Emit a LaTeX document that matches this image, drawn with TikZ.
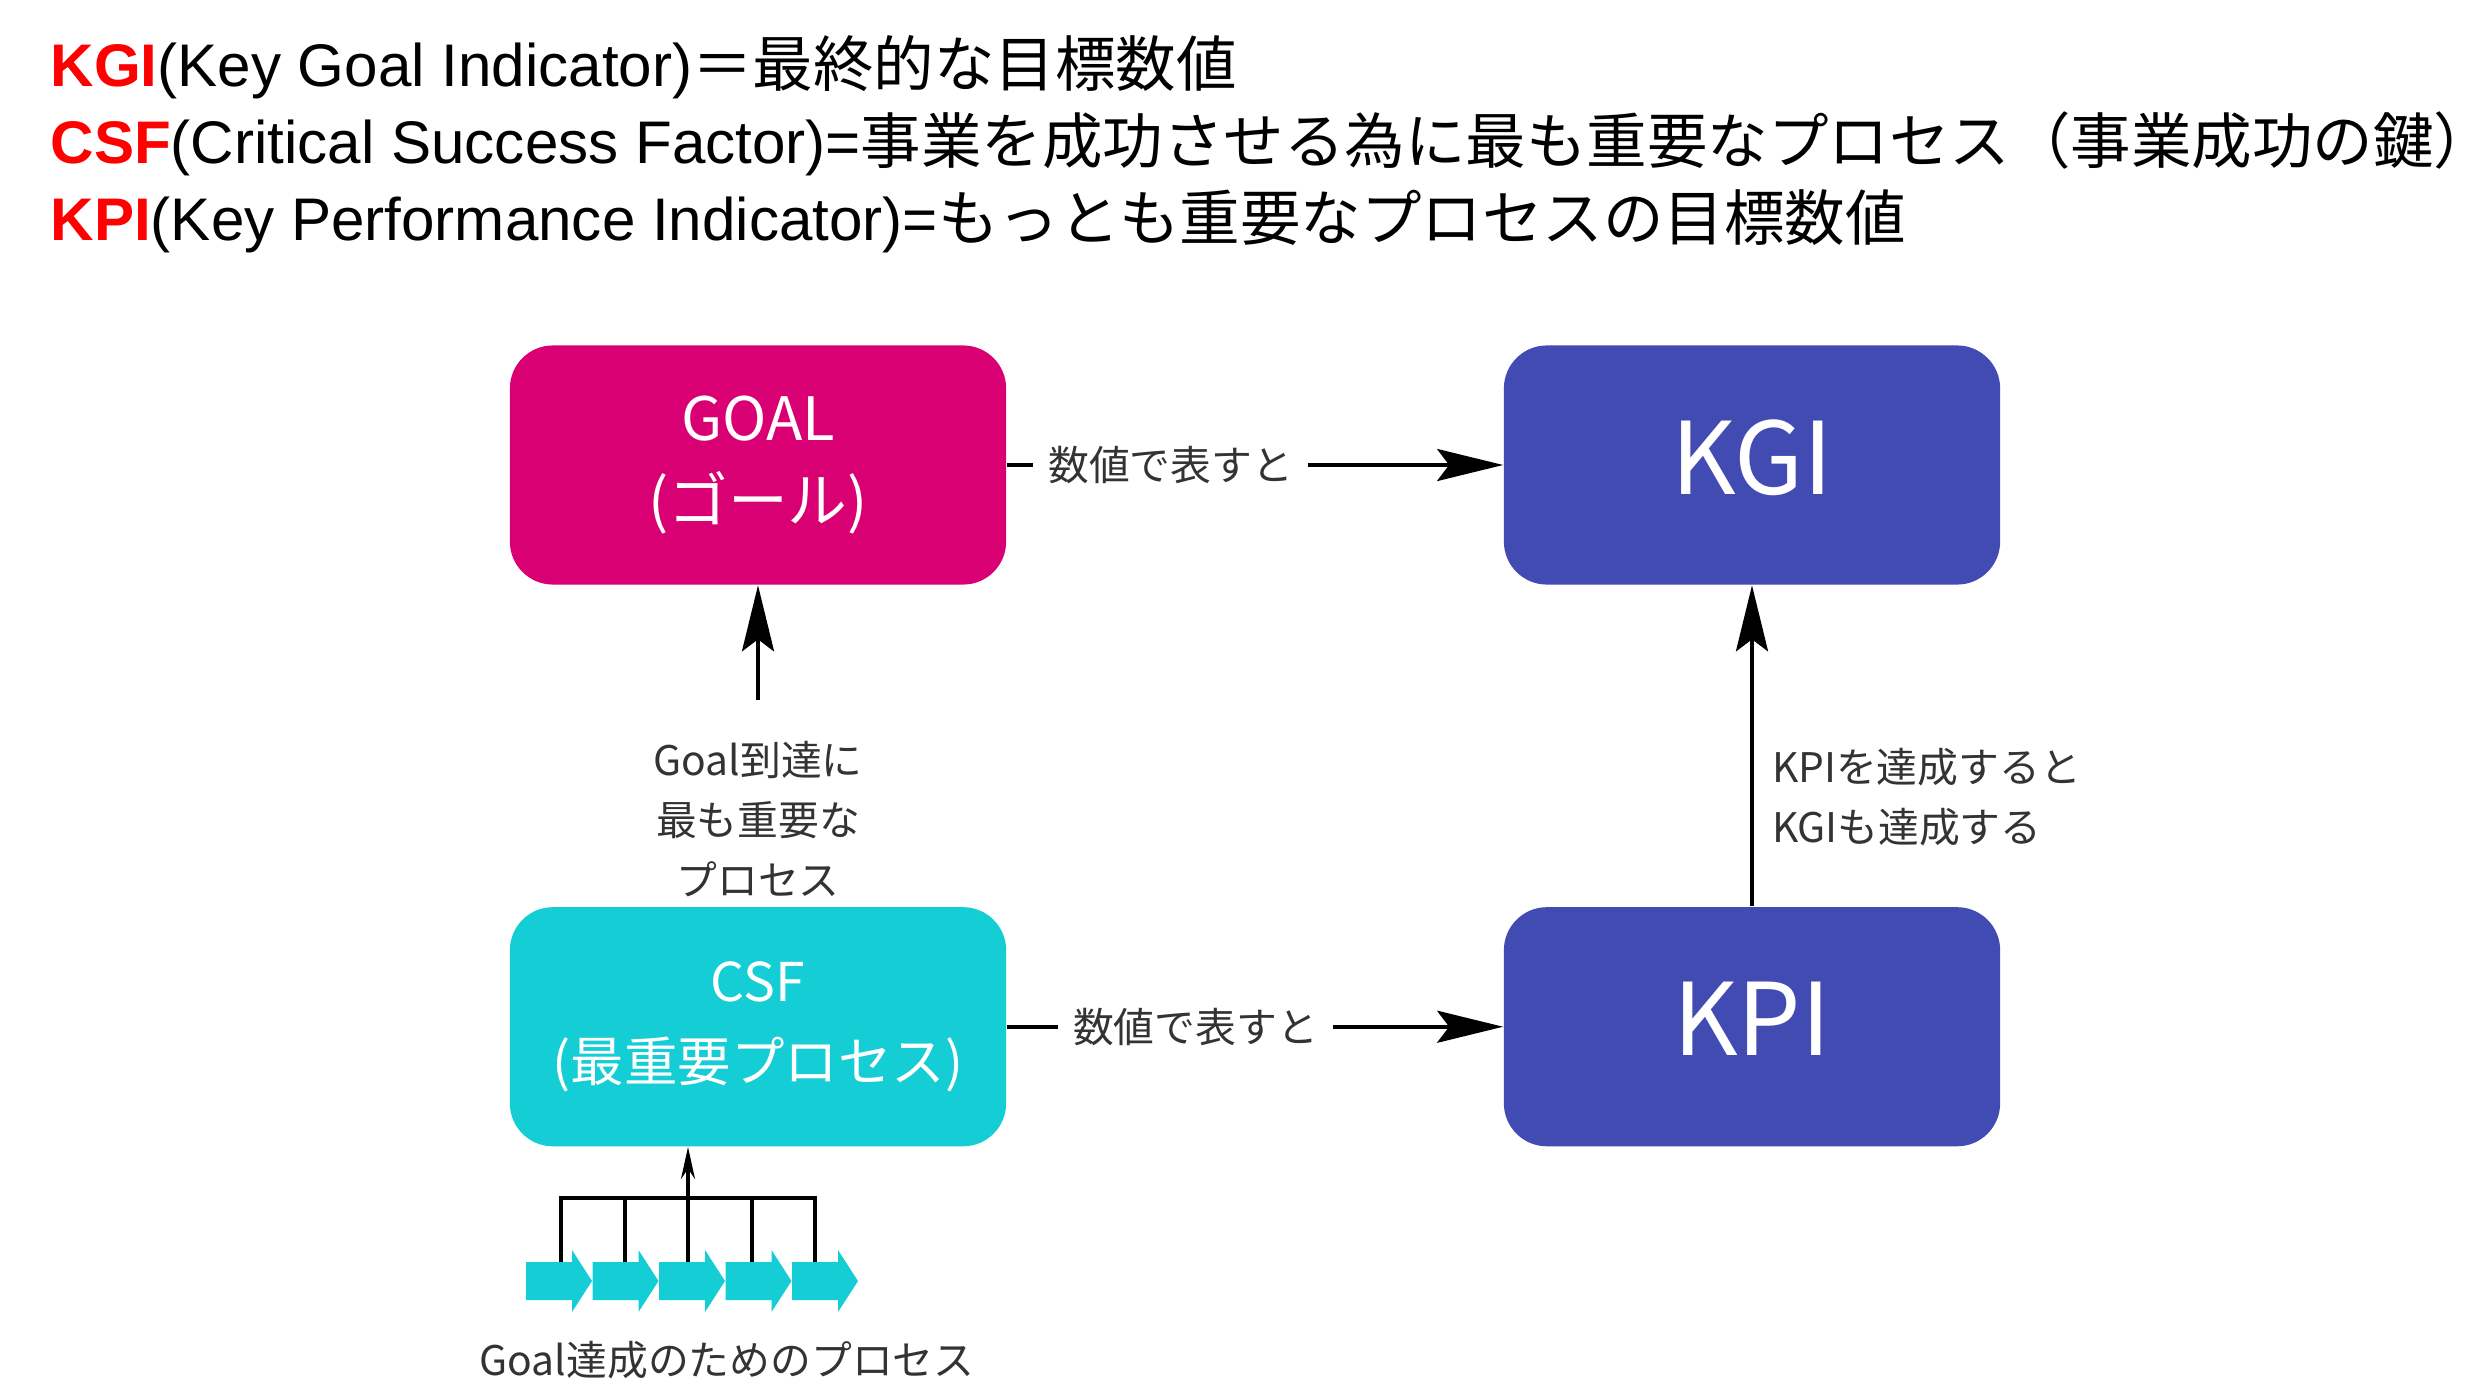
\documentclass[tikz,border=0pt]{standalone}
\usepackage{fontspec}
\setmainfont{Liberation Sans}
\newfontfamily\jpfont{Noto Sans CJK JP}
\usepackage{xcolor}
\usetikzlibrary{arrows.meta,positioning}

\definecolor{keyred}{HTML}{FF0000}
\definecolor{goalpink}{HTML}{D90073}
\definecolor{kpiblue}{HTML}{414BB2}
\definecolor{csfcyan}{HTML}{14CDD5}
\definecolor{notegray}{HTML}{333333}
\newcommand\hjp[1]{{\jpfont\fontsize{17.2}{20}\selectfont #1}}

\begin{document}
\begin{tikzpicture}[x=0.01cm,y=-0.01cm,
  hdr/.style={anchor=base west, inner sep=0, font=\fontsize{17.1}{20}\selectfont},
  box/.style={rounded corners=0.43cm, minimum width=4.96cm, minimum height=2.39cm,
    text=white, align=center, font=\jpfont\fontsize{15.2}{22.8}\selectfont},
  bigbox/.style={box, text depth=0.16cm, font=\jpfont\fontsize{28.5}{30}\selectfont},
  note/.style={text=notegray, align=center, inner sep=0, font=\jpfont\fontsize{11.6}{17.2}\selectfont},
  arr/.style={-{Stealth[length=0.66cm,width=0.32cm,inset=0.12cm]}, line width=0.04cm},
  tick/.style={line width=0.04cm}]
  \useasboundingbox (0,0) rectangle (2492,1394);

  % definitions
  \node[hdr] (kgidef) at (50,87) {\textcolor{keyred}{\bfseries KGI}(Key Goal Indicator)\hjp{＝最終的な目標数値}};
  \node[hdr] (csfdef) at (50,163) {\textcolor{keyred}{\bfseries CSF}(Critical Success Factor)=\hjp{事業を成功させる為に最も重要なプロセス（事業成功の鍵）}};
  \node[hdr] (kpidef) at (50,240) {\textcolor{keyred}{\bfseries KPI}(Key Performance Indicator)=\hjp{もっとも重要なプロセスの目標数値}};

  % boxes
  \node[box, fill=goalpink, font=\jpfont\fontsize{17}{23.2}\selectfont] (goal) at (758,465) {GOAL\\(ゴール)};
  \node[bigbox, fill=kpiblue, right=4.96cm of goal] (kgi) {KGI};
  \node[box, fill=csfcyan, below=3.21cm of goal] (csf) {CSF\\(最重要プロセス)};
  \node[bigbox, fill=kpiblue, right=4.96cm of csf] (kpi) {KPI};

  % arrows
  \draw[arr] (goal) -- node[note, fill=white, inner xsep=0.15cm, pos=0.33] {数値で表すと} (kgi);
  \draw[arr] (csf) -- node[note, fill=white, inner xsep=0.15cm, pos=0.38] {数値で表すと} (kpi);
  \node[note, anchor=north, inner ysep=0.4cm] (goalnote) at (758,700) {Goal到達に\\最も重要な\\プロセス};
  \draw[arr] (goalnote) -- (goal);
  \draw[arr] (kpi) -- node[note, anchor=west, align=left, inner xsep=0.18cm, pos=0.34] {KPIを達成すると\\KGIも達成する} (kgi);

  % process steps
  \coordinate (barL) at (561,1198);
  \coordinate (barR) at (815,1198);
  \foreach \k in {0,...,4}{
    \fill[csfcyan] ({526+66.5*\k},1262) -- ++(46,0) -- ++(0,-12) -- ++(20,31) -- ++(-20,31) -- ++(0,-12) -- ++(-46,0) -- cycle;
    \coordinate (step\k) at ({561+63.5*\k},1262);
  }
  \draw[tick] (step0) -- (barL) -- (barR) -- (step4);
  \foreach \k in {1,2,3} \draw[tick] (step\k) -- (step\k |- barL);
  \draw[tick, -{Stealth[length=0.32cm,width=0.14cm]}] (step2 |- barL) -- (step2 |- csf.south);
  \node[note] (steps) at (727,1360) {Goal達成のためのプロセス};
\end{tikzpicture}
\end{document}
